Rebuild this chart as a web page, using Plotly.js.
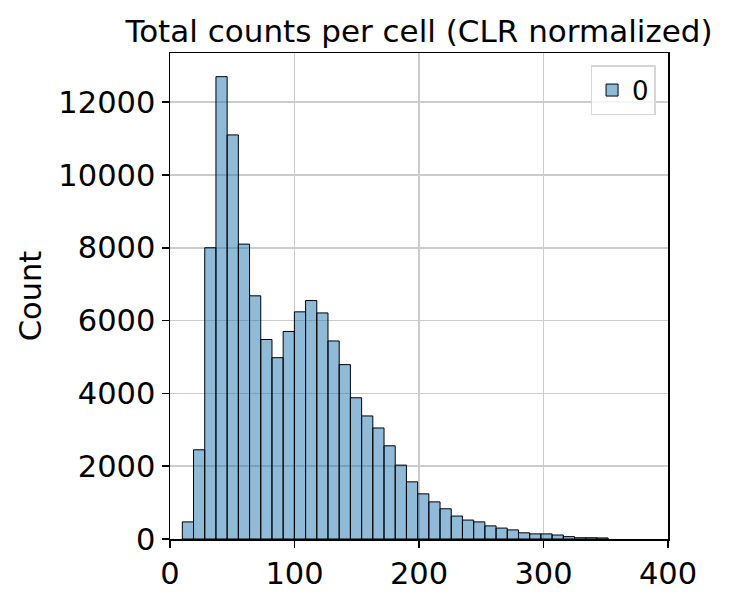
<!DOCTYPE html>
<html>
<head>
<meta charset="utf-8">
<script src="https://cdn.plot.ly/plotly-3.0.1.min.js"></script>
<style>
  body { margin: 0; background: #fff; }
  #chart { width: 730px; height: 602px; }
</style>
</head>
<body>
<div id="chart"></div>
<script>
// histogram bins
var binStart = 9.9
var binWidth = 9.0
var counts = [470, 2450, 8000, 12700, 11100, 8100, 6680, 5480, 4980, 5700,
              6240, 6550, 6210, 5440, 4790, 3880, 3380, 3050, 2560, 2030,
              1570, 1240, 1020, 830, 630, 520, 470, 360, 300, 250,
              170, 140, 140, 110, 65, 35, 35, 30]
var xTicks = [0, 100, 200, 300, 400]
var yTicks = [0, 2000, 4000, 6000, 8000, 10000, 12000]

var edges = counts.map(function (c, i) { return binStart + i * binWidth })

var trace = {
    type: 'bar',
    x: edges,
    y: counts,
    width: binWidth,
    offset: 0,
    name: '0',
    marker: {
        color: 'rgba(31,119,180,0.5)',
        line: { color: '#000000', width: 1 }
    },
    hoverinfo: 'x+y'
}

var font = { family: 'DejaVu Sans, sans-serif', size: 30.5, color: '#000' }

var layout = {
    width: 730,
    height: 602,
    margin: { l: 170, r: 62, t: 53, b: 63 },
    paper_bgcolor: '#ffffff',
    plot_bgcolor: '#ffffff',
    font: font,
    bargap: 0,
    showlegend: true,
    title: {
        text: 'Total counts per cell (CLR normalized)',
        font: { family: 'DejaVu Sans, sans-serif', size: 31, color: '#000' },
        x: 0.5, xref: 'paper', xanchor: 'center',
        y: 1, yref: 'paper', yanchor: 'bottom', pad: { b: 11 }
    },
    xaxis: {
        range: [0, 400],
        tickvals: xTicks,
        ticks: 'outside', ticklen: 7, tickwidth: 1.5, tickcolor: '#000',
        showline: true, linecolor: '#000', linewidth: 1.5, mirror: true,
        showgrid: true, gridcolor: '#cccccc', gridwidth: 1.5,
        zeroline: false,
        tickfont: font
    },
    yaxis: {
        range: [0, 13350],
        tickvals: yTicks,
        tickformat: 'd',
        ticks: 'outside', ticklen: 7, tickwidth: 1.5, tickcolor: '#000',
        showline: true, linecolor: '#000', linewidth: 1.5, mirror: true,
        showgrid: true, gridcolor: '#cccccc', gridwidth: 1.5,
        zeroline: false,
        tickfont: font,
        title: { text: 'Count', font: font, standoff: 7 }
    },
    legend: {
        x: 0.975, y: 0.975, xanchor: 'right', yanchor: 'top',
        bgcolor: 'rgba(255,255,255,0.8)',
        bordercolor: '#d6d6d6', borderwidth: 1.5,
        font: { family: 'DejaVu Sans, sans-serif', size: 26, color: '#000' },
        itemwidth: 30
    }
}

Plotly.newPlot('chart', [trace], layout, { displayModeBar: false, staticPlot: true })
</script>
</body>
</html>
